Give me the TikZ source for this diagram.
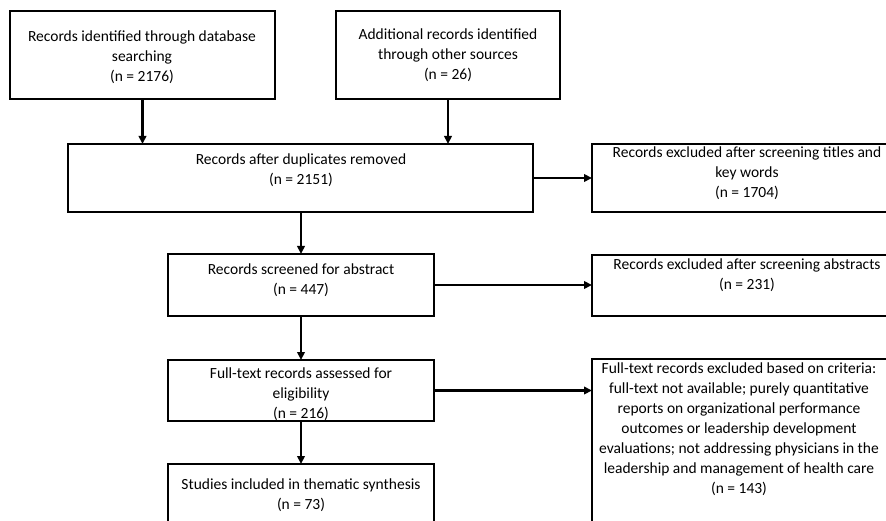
\documentclass[tikz,border=0pt]{standalone}
\usepackage{fontspec}
\setmainfont{Carlito}
\usetikzlibrary{arrows.meta}
\tikzset{
  box/.style={draw=black, line width=1.2pt, rectangle, anchor=north west, inner sep=0pt, outer sep=0pt},
  lbl/.style={align=center, inner sep=0pt, font=\fontsize{15.5}{20}\selectfont},
  conn/.style={line width=2.4pt, -{Triangle[length=8pt,width=7.5pt]}}
}
\begin{document}
\begin{tikzpicture}[x=1pt,y=-1pt]
\useasboundingbox (0,0) rectangle (886,521);
\clip (0,0) rectangle (886,521);
% boxes
\node[box, minimum width=265pt, minimum height=88pt] (b1) at (10,11) {};
\node[box, minimum width=224pt, minimum height=88pt] (b2) at (336,11) {};
\node[box, minimum width=465pt, minimum height=68pt] (b3) at (68,144) {};
\node[box, minimum width=266pt, minimum height=62pt] (b4) at (168,254) {};
\node[box, minimum width=266pt, minimum height=61pt] (b5) at (168,360) {};
\node[box, minimum width=266pt, minimum height=90pt] (b6) at (168,464) {};
\node[box, minimum width=311pt, minimum height=68pt] (r1) at (592,144) {};
\node[box, minimum width=311pt, minimum height=61pt] (r2) at (592,255) {};
\node[box, minimum width=300pt, minimum height=190pt] (r3) at (592,359) {};
% texts
\node[lbl] (t1) at (142,57) {Records identified through database\\searching\\(n = 2176)};
\node[lbl] (t2) at (448,55) {Additional records identified\\through other sources\\(n = 26)};
\node[lbl] (t3) at (301,170) {Records after duplicates removed\\(n = 2151)};
\node[lbl] (t4) at (301,280.5) {Records screened for abstract\\(n = 447)};
\node[lbl] (t5) at (301,394) {Full-text records assessed for\\eligibility\\(n = 216)};
\node[lbl] (t6) at (301,495.5) {Studies included in thematic synthesis\\(n = 73)};
\node[lbl] (u1) at (747,173) {Records excluded after screening titles and\\key words\\(n = 1704)};
\node[lbl] (u2) at (747,275) {Records excluded after screening abstracts\\(n = 231)};
\node[lbl] (u3) at (739,429) {Full-text records excluded based on criteria:\\full-text not available; purely quantitative\\reports on organizational performance\\outcomes or leadership development\\evaluations; not addressing physicians in the\\leadership and management of health care\\(n = 143)};
% connectors
\draw[conn] (b1.south) -- (b1.south |- b3.north);
\draw[conn] (b2.south) -- (b2.south |- b3.north);
\draw[conn] (b3.east) -- (b3.east -| r1.west);
\draw[conn] (b3.south -| b4.north) -- (b4.north);
\draw[conn] (b4.east) -- (b4.east -| r2.west);
\draw[conn] (b4.south) -- (b5.north);
\draw[conn] (b5.east) -- (b5.east -| r3.west);
\draw[conn] (b5.south) -- (b6.north);
\end{tikzpicture}
\end{document}
